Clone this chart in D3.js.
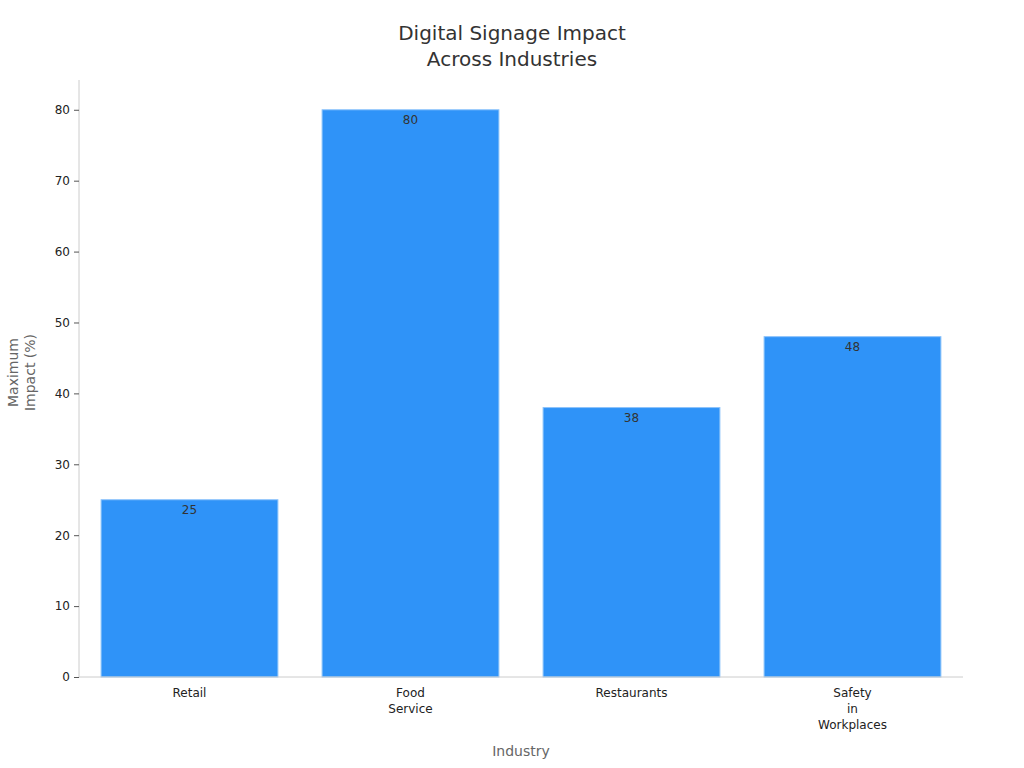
<!DOCTYPE html>
<html>
<head>
<meta charset="utf-8">
<script src="https://cdn.jsdelivr.net/npm/d3@7"></script>
<style>
  body { margin: 0; background: #fff; }
  text { font-family: "DejaVu Sans", sans-serif; }
</style>
</head>
<body>
<svg id="chart" width="1024" height="768"></svg>
<script>
const categories = [["Retail"], ["Food", "Service"], ["Restaurants"], ["Safety", "in", "Workplaces"]];
const values = [25, 80, 38, 48];
const yTicks = [0, 10, 20, 30, 40, 50, 60, 70, 80];

const svg = d3.select('#chart');
const margin = { top: 80, right: 61, bottom: 91, left: 79 };
const width = 1024 - margin.left - margin.right;
const height = 768 - margin.top - margin.bottom;
const g = svg.append('g').attr('transform', `translate(${margin.left},${margin.top})`);

const x = d3.scaleBand().domain(d3.range(categories.length)).range([0, width])
    .paddingInner(0.2).paddingOuter(0.1);
const y = d3.scaleLinear().domain([0, 84.2]).range([height, 0]);

// bars
g.selectAll('rect').data(values).join('rect')
    .attr('x', (d, i) => x(i))
    .attr('y', d => y(d))
    .attr('width', x.bandwidth())
    .attr('height', d => height - y(d))
    .attr('fill', '#2f93f8')
    .attr('stroke', '#8cc3fb')
    .attr('stroke-width', 1);

g.selectAll('.val').data(values).join('text')
    .attr('x', (d, i) => x(i) + x.bandwidth() / 2)
    .attr('y', d => y(d) + 14)
    .attr('text-anchor', 'middle')
    .attr('font-size', 12)
    .attr('fill', '#333')
    .text(d => d);

// y axis
const yAxis = g.append('g').call(d3.axisLeft(y).tickValues(yTicks).tickSize(5).tickPadding(4));
yAxis.select('.domain').attr('stroke', '#ccc').attr('d', `M0,${height}V0`);
yAxis.selectAll('.tick line').attr('stroke', '#555');
yAxis.selectAll('.tick text').attr('font-size', 12).attr('fill', '#222');

// x axis
const xAxis = g.append('g').attr('transform', `translate(0,${height})`)
    .call(d3.axisBottom(x).tickSize(0).tickFormat(''));
xAxis.select('.domain').attr('stroke', '#ccc').attr('d', `M0,0H${width}`);
xAxis.selectAll('.tick').each(function (d) {
    const t = d3.select(this).append('text').attr('fill', '#222').attr('font-size', 12)
        .attr('text-anchor', 'middle').attr('y', 20);
    categories[d].forEach((line, k) => t.append('tspan').attr('x', 0).attr('dy', k ? 16 : 0).text(line));
});

// axis titles
svg.append('text').attr('x', margin.left + width / 2).attr('y', 756)
    .attr('text-anchor', 'middle').attr('font-size', 14).attr('fill', '#666').text('Industry');
svg.append('text').attr('transform', `translate(18,${margin.top + height / 2 - 6}) rotate(-90)`)
    .attr('text-anchor', 'middle').attr('font-size', 14).attr('fill', '#666')
    .selectAll('tspan').data(['Maximum', 'Impact (%)']).join('tspan')
    .attr('x', 0).attr('dy', (d, i) => i ? 17 : 0).text(d => d);

// title
svg.append('text').attr('x', 512).attr('y', 40).attr('text-anchor', 'middle')
    .attr('font-size', 20).attr('fill', '#333')
    .selectAll('tspan').data(['Digital Signage Impact', 'Across Industries']).join('tspan')
    .attr('x', 512).attr('dy', (d, i) => i ? 26 : 0).text(d => d);
</script>
</body>
</html>
